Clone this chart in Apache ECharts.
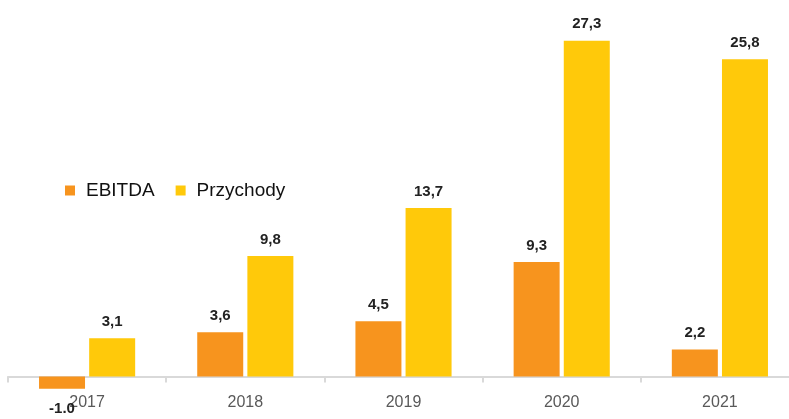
<!DOCTYPE html>
<html>
<head>
<meta charset="utf-8">
<script src="https://cdn.jsdelivr.net/npm/echarts@6/dist/echarts.min.js"></script>
<style>html,body{margin:0;padding:0;background:#fff}#c{width:789px;height:419px}</style>
</head>
<body>
<div id="c"></div>
<script>
const categories = ['2017', '2018', '2019', '2020', '2021'];
const ebitda = [-1.0, 3.6, 4.5, 9.3, 2.2];
const ebitdaLabels = ['-1.0', '3,6', '4,5', '9,3', '2,2'];
const przychody = [3.1, 9.8, 13.7, 27.3, 25.8];
const przychodyLabels = ['3,1', '9,8', '13,7', '27,3', '25,8'];

const chart = echarts.init(document.getElementById('c'), null, {renderer: 'canvas'});
const labelStyle = {
  show: true,
  fontFamily: 'Liberation Sans, Arial, sans-serif',
  fontSize: 15,
  fontWeight: 'bold',
  color: '#222222',
  distance: 9
};
chart.setOption({
  animation: false,
  grid: {left: 8, right: -10, top: 7.5, bottom: 17.9, containLabel: false, outerBoundsMode: 'none'},
  legend: {
    left: 60, top: 176,
    icon: 'rect', itemWidth: 10, itemHeight: 10, itemGap: 21,
    textStyle: {fontFamily: 'Liberation Sans, Arial, sans-serif', fontSize: 19, color: '#111111', padding: [0, 0, 0, 6]},
    data: ['EBITDA', 'Przychody']
  },
  xAxis: {
    type: 'category',
    data: categories,
    z: 1,
    axisLine: {onZero: true, lineStyle: {color: '#d9d9d9', width: 2}},
    axisTick: {show: true, length: 6, lineStyle: {color: '#d9d9d9', width: 2}},
    axisLabel: {fontFamily: 'Liberation Sans, Arial, sans-serif', fontSize: 16, color: '#595959', margin: -7}
  },
  yAxis: {type: 'value', min: -2, max: 30, show: false, splitLine: {show: false}},
  series: [
    {
      name: 'EBITDA', type: 'bar', barWidth: 46, barGap: '9%', z: 3,
      itemStyle: {color: '#F7941E'},
      data: ebitda.map((v, i) => ({
        value: v,
        label: Object.assign({}, labelStyle, v < 0 ? {position: 'bottom', distance: 13} : {position: 'top'}, {formatter: ebitdaLabels[i]})
      }))
    },
    {
      name: 'Przychody', type: 'bar', barWidth: 46, barGap: '9%', z: 3,
      itemStyle: {color: '#FFC90A'},
      data: przychody.map((v, i) => ({
        value: v,
        label: Object.assign({}, labelStyle, {position: 'top', formatter: przychodyLabels[i]})
      }))
    }
  ]
});
</script>
</body>
</html>
